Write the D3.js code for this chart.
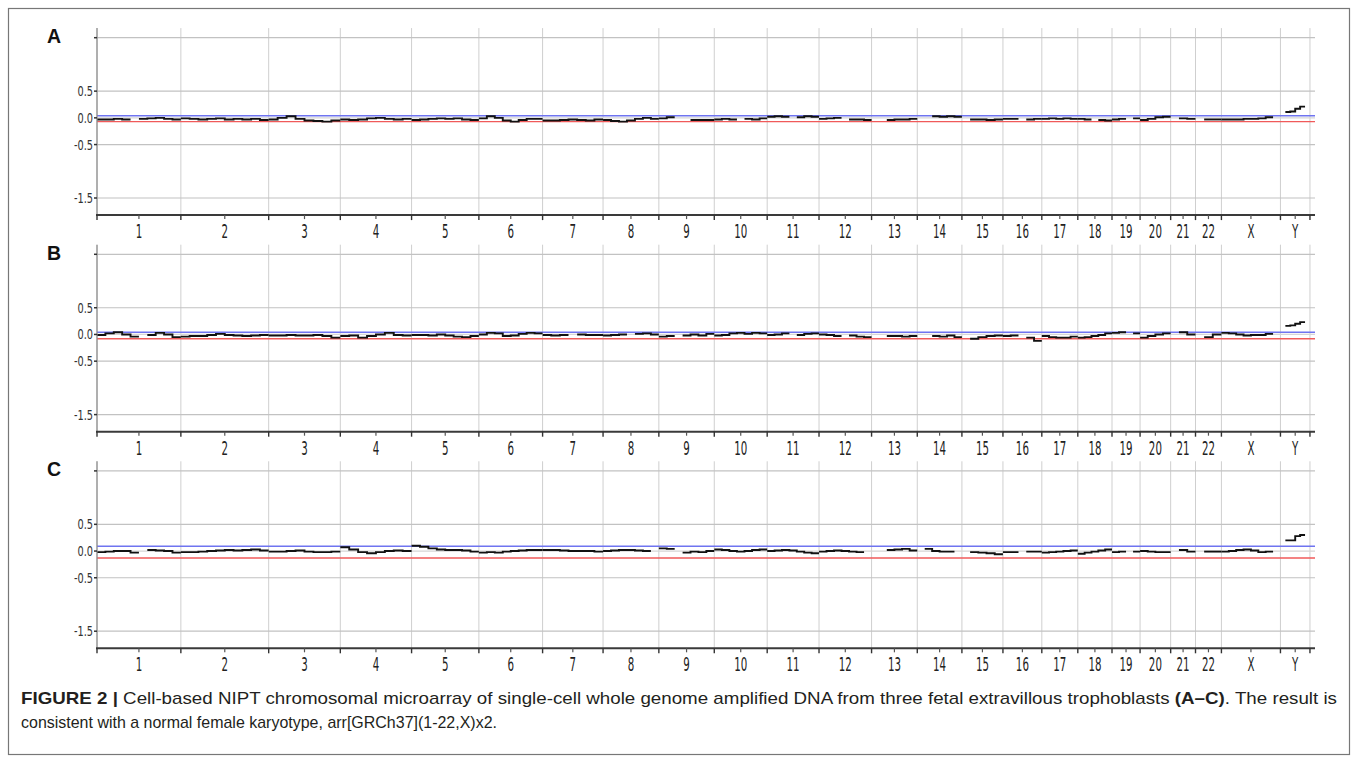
<!DOCTYPE html>
<html><head><meta charset="utf-8">
<script src="https://cdn.jsdelivr.net/npm/d3@7"></script>
<style>
html,body{margin:0;padding:0;background:#fff;}
svg{display:block;}
</style></head>
<body>
<svg id="chart" width="1358" height="760"></svg>
<script>
// ---------- DATA ----------
const chromNames = ["1","2","3","4","5","6","7","8","9","10","11","12","13","14","15","16","17","18","19","20","21","22","X","Y"];
// relative chromosome widths (approx. Mb)
const chromLengths = [233,244,199,198,187,177,168,155,154,147,144,146,127,124,114,108,100,95,78,85,69,72,164,82];
const yTicks = [1.5, 0.5, 0.0, -0.5, -1.5];
const yTickLabels = ["", "0.5", "0.0", "-0.5", "-1.5"];
const panelLabels = ["A","B","C"];
// threshold lines per panel [blue, red]
const blueLevels = [0.04, 0.04, 0.09];
const redLevels = [-0.07, -0.08, -0.13];

// log2 ratio segments per chromosome (equal-width steps; null = no data)
const panelA = [
 [-0.03,-0.03,-0.02,-0.03,null,-0.02,-0.01,0.0,-0.02,-0.03],
 [-0.01,-0.02,-0.03,-0.02,-0.01,-0.03,-0.02,-0.03,-0.02,-0.04],
 [-0.03,0.0,0.03,-0.02,-0.05,-0.06,-0.07,-0.05],
 [-0.03,-0.04,-0.03,-0.01,0.0,-0.02,-0.03,-0.02],
 [-0.04,-0.03,-0.02,-0.01,-0.02,-0.01,-0.03,-0.04],
 [-0.01,0.03,0.0,-0.05,-0.07,-0.04,-0.02,-0.02],
 [-0.05,-0.05,-0.04,-0.03,-0.04,-0.05,-0.03],
 [-0.04,-0.06,-0.07,-0.05,-0.02,0.0,-0.02],
 [-0.01,0.01,null,null,-0.04,-0.04,-0.04],
 [-0.03,-0.02,-0.03,null,-0.02,-0.03,-0.01],
 [0.02,0.03,0.02,null,0.01,0.03,0.02],
 [-0.02,-0.01,0.0,null,-0.03,-0.03,-0.04],
 [null,null,-0.04,-0.03,-0.03,-0.02],
 [null,null,0.03,0.02,0.03,0.02],
 [null,-0.03,-0.03,-0.04,-0.03],
 [-0.02,-0.02,null,-0.03,-0.02],
 [-0.02,-0.01,-0.02,-0.01,-0.02],
 [-0.02,-0.03,null,-0.04,-0.05],
 [-0.03,-0.02,null,-0.01],
 [-0.04,-0.02,0.01,0.02],
 [null,-0.01,-0.02],
 [null,-0.03,-0.03],
 [-0.03,-0.03,-0.03,-0.02,-0.02,-0.01,0.01,null],
 [null,0.11,0.12,0.17,0.21,null]
];
const panelB = [
 [-0.01,0.02,0.04,0.0,-0.04,null,-0.01,0.03,0.0,-0.05],
 [-0.04,-0.03,-0.03,-0.01,0.01,-0.01,-0.02,-0.03,-0.02,-0.01],
 [-0.02,-0.02,-0.01,-0.02,-0.02,-0.01,-0.03,-0.06],
 [-0.03,-0.02,-0.06,-0.03,0.0,0.03,-0.01,-0.02],
 [-0.01,-0.01,-0.02,0.0,-0.02,-0.04,-0.05,-0.03],
 [0.0,0.03,0.02,-0.03,-0.02,0.01,0.03,0.02],
 [-0.01,-0.02,-0.01,null,0.0,-0.01,-0.01],
 [-0.02,-0.01,0.0,null,0.01,0.02,0.0],
 [-0.04,-0.03,null,-0.02,0.0,-0.02,0.01],
 [-0.02,-0.01,0.02,0.03,0.01,0.03,0.02],
 [-0.01,0.0,0.02,null,-0.01,0.01,0.02],
 [0.0,-0.01,-0.03,null,-0.02,-0.04,-0.05],
 [null,null,-0.03,-0.03,-0.04,-0.03],
 [null,null,-0.03,-0.04,-0.02,-0.05],
 [null,-0.08,-0.05,-0.03,-0.02],
 [-0.03,-0.02,null,-0.06,-0.12],
 [-0.03,-0.05,-0.06,-0.06,-0.04],
 [-0.06,-0.05,-0.03,-0.01,0.02],
 [0.03,0.04,null,0.02],
 [-0.06,-0.03,0.0,0.02],
 [null,0.04,0.0],
 [null,-0.05,0.0],
 [0.03,0.02,0.0,-0.02,-0.01,-0.01,0.01,null],
 [null,0.16,0.17,0.2,0.23,null]
];
const panelC = [
 [-0.02,-0.01,0.0,0.0,-0.03,null,0.02,0.01,0.0,-0.03],
 [-0.02,-0.02,-0.01,0.0,0.01,0.02,0.01,0.02,0.03,0.01],
 [-0.01,-0.01,0.0,0.01,-0.01,-0.02,-0.02,-0.01],
 [0.07,0.03,-0.02,-0.04,-0.02,0.0,0.01,0.0],
 [0.1,0.08,0.05,0.03,0.02,0.02,0.01,-0.01],
 [-0.03,-0.02,-0.03,-0.01,0.0,0.01,0.02,0.02],
 [0.02,0.02,0.01,0.0,0.0,0.0,-0.01],
 [0.0,0.01,0.02,0.02,0.01,0.0,null],
 [0.05,0.04,null,-0.03,-0.01,-0.02,0.0],
 [0.03,0.02,0.0,-0.01,0.0,0.02,0.03],
 [0.0,0.01,0.02,0.01,-0.01,-0.03,-0.04],
 [-0.01,0.0,0.01,0.0,-0.01,-0.02,null],
 [null,null,0.02,0.03,0.04,0.01],
 [null,0.04,0.0,-0.01,-0.01,null],
 [null,-0.02,-0.03,-0.04,-0.06],
 [-0.02,-0.02,null,-0.01,-0.01],
 [-0.03,-0.02,-0.01,0.0,0.01],
 [-0.05,-0.03,-0.01,0.01,0.03],
 [-0.02,-0.01,null,-0.01],
 [0.0,-0.01,-0.02,-0.02],
 [null,0.02,-0.01],
 [null,-0.01,-0.01],
 [-0.01,0.0,0.02,0.03,0.01,-0.02,-0.01,null],
 [null,0.2,0.2,0.28,0.3,null]
];
const panels = [panelA, panelB, panelC];

const captionLine1 = [
  {t:"FIGURE 2 | ", b:true},
  {t:"Cell-based NIPT chromosomal microarray of single-cell whole genome amplified DNA from three fetal extravillous trophoblasts ", b:false},
  {t:"(A\u2013C)", b:true},
  {t:". The result is", b:false}
];
const captionLine2 = "consistent with a normal female karyotype, arr[GRCh37](1-22,X)x2.";

// ---------- LAYOUT ----------
const svg = d3.select("#chart");
const W = 1358, H = 760;
svg.append("rect").attr("x",8.5).attr("y",8.5).attr("width",W-17).attr("height",H-14)
   .attr("fill","#fff").attr("stroke","#777").attr("stroke-width",1.2);

const starts = [];
let acc = 0;
chromLengths.forEach(l => { starts.push(acc); acc += l; });
const total = acc;
const x = d3.scaleLinear().domain([0, total + 14]).range([97, 1315]);
const boundaries = starts.concat([total]);
const centers = starts.map((s,i) => s + chromLengths[i]/2);

const panelOffset = 216.6;
const narrow = "'Liberation Sans Narrow','DejaVu Sans Condensed','Arial Narrow',sans-serif";

panels.forEach((data, p) => {
  const off = p * panelOffset;
  const y = d3.scaleLinear().domain([1.5, -1.5]).range([37.7 + off, 198 + off]);
  const yTop = y(1.68), yBot = y(-1.82);
  const g = svg.append("g");

  // vertical grid
  g.selectAll(".vg").data(boundaries).join("line")
    .attr("x1", d => x(d)).attr("x2", d => x(d))
    .attr("y1", yTop).attr("y2", yBot)
    .attr("stroke", "#cfcfcf").attr("stroke-width", 1);

  // horizontal grid
  g.selectAll(".hg").data(yTicks).join("line")
    .attr("x1", x(0)).attr("x2", x.range()[1])
    .attr("y1", d => y(d)).attr("y2", d => y(d))
    .attr("stroke", d => d === 0 ? "#d6d6d6" : "#c2c2c2").attr("stroke-width", 1.2);

  // threshold lines
  g.append("line").attr("x1", x(0)).attr("x2", x.range()[1])
    .attr("y1", y(blueLevels[p])).attr("y2", y(blueLevels[p]))
    .attr("stroke", "#6f74f0").attr("stroke-width", 1.4);
  g.append("line").attr("x1", x(0)).attr("x2", x.range()[1])
    .attr("y1", y(redLevels[p])).attr("y2", y(redLevels[p]))
    .attr("stroke", "#f05a5a").attr("stroke-width", 1.4);

  // data step lines
  const line = d3.line().defined(d => d.v !== null).x(d => x(d.x)).y(d => y(d.v));
  data.forEach((vals, ci) => {
    const s = starts[ci], len = chromLengths[ci], n = vals.length;
    const pts = [];
    vals.forEach((v, i) => {
      const a = s + len * i / n, b = s + len * (i + 1) / n;
      pts.push({x: a, v: v});
      pts.push({x: b, v: v});
    });
    g.append("path").attr("d", line(pts))
      .attr("fill", "none").attr("stroke", "#111").attr("stroke-width", 1.9)
      .attr("stroke-linejoin", "miter");
  });

  // y axis
  g.append("line").attr("x1", x(0)).attr("x2", x(0)).attr("y1", yTop).attr("y2", yBot)
    .attr("stroke", "#8a8a8a").attr("stroke-width", 1.2);
  g.selectAll(".yt").data(yTicks).join("line")
    .attr("x1", x(0) - 3).attr("x2", x(0)).attr("y1", d => y(d)).attr("y2", d => y(d))
    .attr("stroke", "#333").attr("stroke-width", 1.5);
  g.selectAll(".yl").data(yTicks).join("text")
    .attr("transform", d => `translate(${x(0) - 4},${y(d) + 5}) scale(0.75,1)`)
    .attr("text-anchor", "end").attr("font-family", narrow).attr("font-size", 14.5)
    .attr("fill", "#333").text((d, i) => yTickLabels[i]);

  // x axis
  const axisG = g.append("g").attr("transform", `translate(0,${yBot})`);
  axisG.append("line").attr("x1", x(0) - 1).attr("x2", x.range()[1])
    .attr("stroke", "#3a3a3a").attr("stroke-width", 2);
  axisG.selectAll(".bt").data(boundaries).join("line")
    .attr("x1", d => x(d)).attr("x2", d => x(d)).attr("y1", 0).attr("y2", 5)
    .attr("stroke", "#333").attr("stroke-width", 1.4);
  axisG.selectAll(".ct").data(centers).join("line")
    .attr("x1", d => x(d)).attr("x2", d => x(d)).attr("y1", 0).attr("y2", 4)
    .attr("stroke", "#555").attr("stroke-width", 1.2);
  axisG.selectAll(".cl").data(centers).join("text")
    .attr("transform", (d) => `translate(${x(d)},23) scale(0.6,1)`)
    .attr("text-anchor", "middle").attr("font-family", narrow).attr("font-size", 19)
    .attr("fill", "#222").text((d, i) => chromNames[i]);

  // panel letter
  svg.append("text").attr("x", 47).attr("y", 43 + off)
    .attr("font-family", "'Liberation Sans',Arial,sans-serif").attr("font-weight", "bold")
    .attr("font-size", 19.5).attr("fill", "#111").text(panelLabels[p]);
});

// caption
const cap = svg.append("text").attr("x", 21).attr("y", 704)
  .attr("font-family", "'Liberation Sans',Arial,sans-serif").attr("font-size", 17)
  .attr("fill", "#231f20").attr("textLength", 1316).attr("lengthAdjust", "spacingAndGlyphs");
captionLine1.forEach(s => cap.append("tspan").attr("font-weight", s.b ? "bold" : "normal").text(s.t));
svg.append("text").attr("x", 21).attr("y", 728)
  .attr("font-family", "'Liberation Sans',Arial,sans-serif").attr("font-size", 17)
  .attr("fill", "#231f20").attr("textLength", 476).attr("lengthAdjust", "spacingAndGlyphs")
  .text(captionLine2);
</script>
</body></html>
